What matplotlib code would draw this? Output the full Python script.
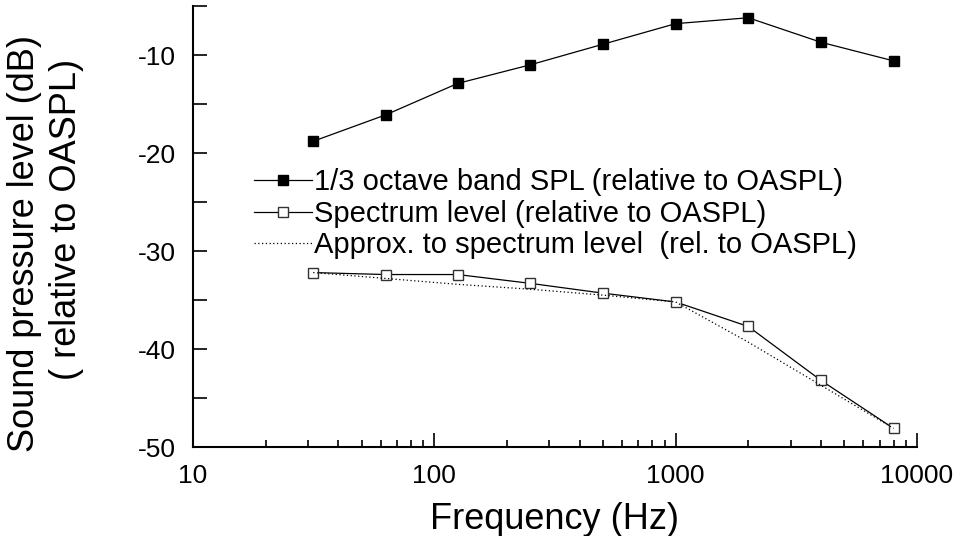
import matplotlib
matplotlib.use("Agg")
import matplotlib.pyplot as plt
from matplotlib.ticker import FixedLocator, MultipleLocator, NullFormatter

plt.rcParams['font.family'] = ['Liberation Sans', 'DejaVu Sans']
plt.rcParams['axes.unicode_minus'] = False

freq = [31.5, 63, 125, 250, 500, 1000, 2000, 4000, 8000]
third_octave_spl = [-18.8, -16.1, -12.9, -11.0, -8.9, -6.8, -6.2, -8.7, -10.6]
spectrum_level = [-32.2, -32.4, -32.4, -33.3, -34.3, -35.2, -37.7, -43.2, -48.1]
approx_level = [-32.2, -32.8, -33.4, -33.9, -34.5, -35.2, -39.3, -43.7, -48.1]

labels = ["1/3 octave band SPL (relative to OASPL)",
          "Spectrum level (relative to OASPL)",
          "Approx. to spectrum level  (rel. to OASPL)"]

fig = plt.figure(figsize=(9.61, 5.36), dpi=100)
ax = fig.add_axes([0.2008, 0.166, 0.7534, 0.8228])

ax.plot(freq, third_octave_spl, color='black', lw=0.9, marker='s', ms=7.5,
        mfc='black', mec='black', label=labels[0])
ax.plot(freq, spectrum_level, color='black', lw=0.9, marker='s', ms=7.5,
        mfc='white', mec='#333333', mew=1.0, label=labels[1])
ax.plot(freq, approx_level, color='black', lw=0.9, ls=(0, (1, 2)),
        label=labels[2])

ax.set_xscale('log')
ax.set_xlim(10, 10000)
ax.set_ylim(-50, -5)
ax.set_xticks([10, 100, 1000, 10000])
ax.set_xticklabels(['10', '100', '1000', '10000'])
ax.xaxis.set_minor_formatter(NullFormatter())
ax.yaxis.set_major_locator(FixedLocator([-50, -40, -30, -20, -10]))
ax.yaxis.set_minor_locator(MultipleLocator(5))

for s in ['top', 'right']:
    ax.spines[s].set_visible(False)
for s in ['left', 'bottom']:
    ax.spines[s].set_linewidth(1.5)

ax.tick_params(which='both', direction='in', width=1.2, labelsize=19)
ax.tick_params(axis='x', which='major', length=10, pad=12)
ax.tick_params(axis='x', which='minor', length=5)
ax.tick_params(axis='y', which='major', length=10, pad=12)
ax.tick_params(axis='y', which='minor', length=10)

ax.set_xlabel("Frequency (Hz)", fontsize=26, labelpad=10)
fig.text(25 / 961, 1 - 243 / 536, "Sound pressure level (dB)", fontsize=26,
         rotation=90, ha='center', va='center')
fig.text(67 / 961, 1 - 219 / 536, "( relative to OASPL)", fontsize=26,
         rotation=90, ha='center', va='center')

ax.legend(loc='upper left', bbox_to_anchor=(0.084, 0.632), frameon=False,
          fontsize=21, handlelength=2.0, handletextpad=0.05, labelspacing=0.12,
          borderpad=0, borderaxespad=0)

fig.savefig('out.png', dpi=100)
